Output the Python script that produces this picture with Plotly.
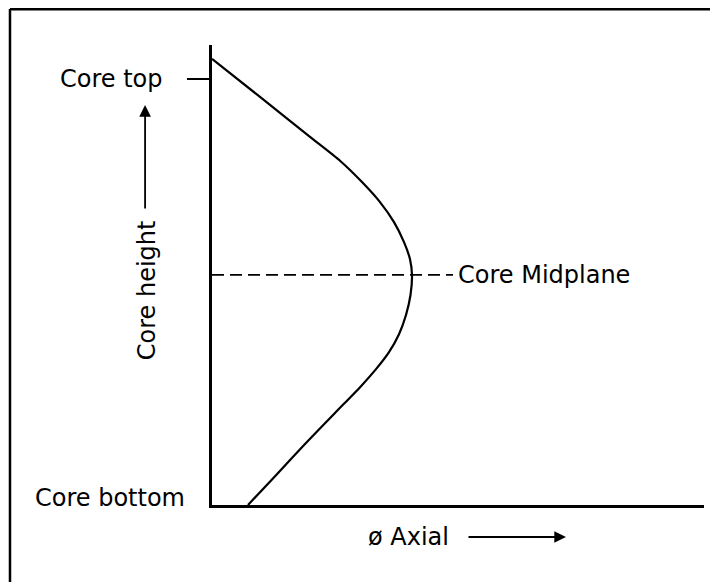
import plotly.graph_objects as go

# axial flux shape (flux relative to peak, height relative to core height)
flux = [0.0, 0.24, 0.49, 0.64, 0.75, 0.84, 0.91, 0.96, 0.99, 1.0,
        0.9925, 0.97, 0.935, 0.885, 0.82, 0.745, 0.615, 0.465, 0.32, 0.18]
height = [1.047, 0.958, 0.864, 0.808, 0.758, 0.711, 0.664, 0.617, 0.577, 0.540,
          0.493, 0.446, 0.401, 0.359, 0.319, 0.279, 0.216, 0.143, 0.070, 0.0]

midplane_x = [0.0, 1.205]
midplane_y = [0.54, 0.54]

font = dict(family="DejaVu Sans", size=24, color="black")

fig = go.Figure()

fig.add_trace(go.Scatter(
    x=flux, y=height, mode="lines", line_shape="spline",
    line=dict(color="black", width=2.2, smoothing=0.6), showlegend=False
))

fig.add_trace(go.Scatter(
    x=midplane_x, y=midplane_y, mode="lines",
    line=dict(color="black", width=1.8, dash="12px,6px"), showlegend=False
))

# labels (paper coordinates)
fig.add_annotation(xref="paper", yref="paper", x=0.496, y=0.5, text="Core Midplane",
                   showarrow=False, xanchor="left", yanchor="middle", font=font)
fig.add_annotation(xref="paper", yref="paper", x=-0.0955, y=0.926, text="Core top",
                   showarrow=False, xanchor="right", yanchor="middle", font=font)
fig.add_annotation(xref="paper", yref="paper", x=-0.0508, y=0.0152, text="Core bottom",
                   showarrow=False, xanchor="right", yanchor="middle", font=font)
fig.add_annotation(xref="paper", yref="paper", x=-0.132, y=0.467, text="Core height",
                   showarrow=False, textangle=-90, xanchor="center", yanchor="middle",
                   font=font)
fig.add_annotation(xref="paper", yref="paper", x=-0.136, y=0.8696, text="",
                   showarrow=True, ax=0, ay=105,
                   arrowhead=2, arrowsize=1.3, arrowwidth=1.8, arrowcolor="black")
fig.add_annotation(xref="paper", yref="paper", x=0.4004, y=-0.0696, text="ø Axial",
                   showarrow=False, xanchor="center", yanchor="middle", font=font)
fig.add_annotation(xref="paper", yref="paper", x=0.7195, y=-0.0696, text="",
                   showarrow=True, ax=-99, ay=0,
                   arrowhead=2, arrowsize=1.3, arrowwidth=1.8, arrowcolor="black")

# page frame (left and top edges)
fig.add_shape(type="line", xref="paper", yref="paper", x0=-0.4106, x1=-0.4106,
              y0=1.078, y1=-0.2, line=dict(color="black", width=2.5))
fig.add_shape(type="line", xref="paper", yref="paper", x0=-0.4106, x1=1.03,
              y0=1.078, y1=1.078, line=dict(color="black", width=3))

fig.update_layout(
    width=710, height=574,
    margin=dict(l=204, r=14, t=37, b=77),
    plot_bgcolor="white", paper_bgcolor="white",
    xaxis=dict(range=[0, 2.46], showgrid=False, zeroline=False, showline=True,
               linecolor="black", linewidth=2.5, showticklabels=False, ticks=""),
    yaxis=dict(range=[0, 1.0798], showgrid=False, zeroline=False, showline=True,
               linecolor="black", linewidth=2.5, showticklabels=False,
               ticks="outside", tickvals=[1.0], ticklen=22, tickwidth=1.5,
               tickcolor="black"),
)

fig.write_html("out.html")
